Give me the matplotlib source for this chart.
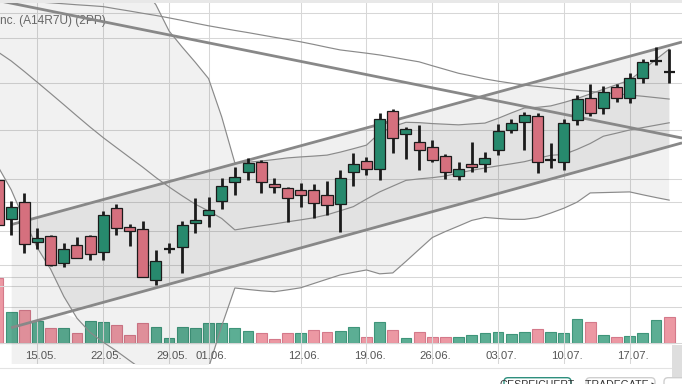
import numpy as np
import pandas as pd
import matplotlib
matplotlib.use("Agg")
import matplotlib.pyplot as plt
from matplotlib.patches import Rectangle, FancyBboxPatch
from matplotlib.lines import Line2D
from matplotlib.transforms import IdentityTransform
from matplotlib.ticker import NullLocator

# ---------------- data ----------------
DATES = pd.bdate_range("2023-05-10", "2023-07-20")
X_LABELS = ["15.05.", "22.05.", "29.05.", "01.06.", "12.06.",
            "19.06.", "26.06.", "03.07.", "10.07.", "17.07."]

OPEN = [59.96, 57.67, 58.69, 56.41, 56.73, 55.25, 56.23, 56.73, 55.85, 58.31,
        57.22, 57.11, 54.32, 55.99, 56.10, 57.45, 57.90, 58.75, 59.86, 60.46,
        61.04, 59.71, 59.47, 59.37, 59.37, 59.06, 58.54, 60.42, 61.10, 60.60,
        64.23, 62.74, 62.28, 61.98, 61.41, 60.22, 60.91, 60.91, 61.78, 63.01,
        63.49, 63.91, 61.16, 61.03, 63.64, 65.02, 64.38, 65.73, 65.02, 66.36,
        67.49, 66.71]
HIGH = [60.20, 58.75, 59.22, 57.16, 56.79, 56.35, 56.69, 56.79, 58.17, 58.56,
        57.41, 57.58, 55.95, 56.35, 57.59, 58.89, 58.95, 60.07, 60.73, 61.27,
        61.16, 60.07, 59.57, 59.77, 59.71, 59.92, 60.56, 61.57, 61.36, 64.06,
        64.34, 63.18, 63.32, 62.39, 61.53, 61.06, 62.28, 61.67, 63.39, 63.68,
        64.16, 64.06, 62.22, 63.68, 65.23, 65.93, 65.82, 65.93, 66.69, 67.58,
        68.39, 68.26]
LOW = [57.07, 56.79, 55.77, 55.99, 55.07, 55.03, 55.48, 55.39, 55.39, 56.79,
       56.17, 54.47, 54.04, 55.77, 54.67, 56.88, 57.22, 58.25, 59.08, 59.96,
       59.18, 59.18, 57.54, 58.40, 57.77, 57.92, 56.97, 59.61, 60.26, 59.96,
       61.57, 61.21, 60.56, 61.03, 60.00, 59.96, 60.46, 60.42, 61.47, 62.84,
       61.78, 60.40, 60.66, 60.56, 63.32, 63.87, 64.00, 64.76, 64.74, 65.99,
       67.20, 65.99]
CLOSE = [57.35, 58.40, 56.26, 56.60, 55.12, 56.00, 55.52, 55.71, 57.90, 57.16,
         57.01, 54.49, 55.32, 55.99, 57.33, 57.63, 58.19, 59.61, 60.13, 60.97,
         59.86, 59.57, 58.89, 59.06, 58.60, 58.48, 60.07, 60.92, 60.60, 63.68,
         62.49, 63.05, 61.78, 61.16, 60.46, 60.60, 60.73, 61.27, 62.95, 63.43,
         63.95, 61.03, 61.16, 63.43, 64.95, 64.06, 65.41, 65.02, 66.32, 67.38,
         67.49, 66.71]
PREV_CLOSE = 58.00  # close of the day before the first visible candle

VOLUME = [65.8, 31.0, 33.6, 22.0, 15.8, 15.0, 10.0, 22.3, 21.0, 18.0,
          8.0, 20.0, 16.6, 5.6, 16.6, 15.0, 20.0, 20.6, 15.6, 12.3,
          10.0, 4.0, 10.0, 10.0, 13.3, 11.0, 12.3, 16.6, 6.0, 21.6,
          13.3, 5.0, 11.0, 6.6, 6.0, 6.0, 8.3, 10.6, 11.0, 9.0,
          11.6, 14.0, 11.0, 10.0, 24.0, 21.0, 8.3, 6.6, 7.6, 10.6,
          23.3, 26.6]

BB_UPPER = [77.58, 77.20, 76.81, 76.44, 76.06, 75.68, 75.31, 74.86, 74.42, 73.83,
            73.25, 72.53, 71.33, 69.50, 68.40, 67.37, 66.30, 63.83, 60.98, 61.03,
            61.10, 61.19, 61.29, 61.35, 61.40, 61.46, 61.64, 61.85, 62.07, 62.82,
            63.22, 63.49, 63.47, 63.41, 63.37, 63.33, 63.39, 63.44, 63.74, 64.08,
            64.40, 64.44, 64.53, 64.75, 65.00, 65.30, 65.60, 65.90, 66.20, 66.87,
            67.57, 68.26]
BB_MID = [68.07, 67.47, 66.77, 66.05, 65.33, 64.61, 63.89, 63.19, 62.53, 61.92,
          61.32, 60.73, 60.11, 59.55, 59.03, 58.54, 58.15, 57.72, 57.07, 57.19,
          57.30, 57.41, 57.53, 57.64, 57.76, 57.93, 58.16, 58.40, 58.84, 59.26,
          59.60, 59.94, 60.03, 60.10, 60.20, 60.38, 60.54, 60.68, 60.81, 60.93,
          61.06, 61.26, 61.45, 61.50, 61.81, 62.17, 62.62, 62.81, 63.01, 63.16,
          63.31, 63.46]
BB_LOWER = [60.77, 59.39, 57.63, 56.05, 54.89, 53.43, 52.29, 51.56, 51.06, 50.62,
            50.14, 49.68, 49.38, 49.28, 49.38, 49.68, 49.78, 51.89, 53.88, 53.80,
            53.73, 53.68, 53.78, 53.89, 54.12, 54.35, 54.58, 54.72, 54.85, 54.64,
            54.69, 55.32, 55.98, 56.64, 56.98, 57.29, 57.61, 57.78, 57.72, 57.67,
            57.67, 57.78, 58.03, 58.31, 58.66, 59.20, 59.22, 59.24, 59.26, 59.09,
            58.93, 58.78]
MA_SLOW = [71.75, 71.68, 71.61, 71.53, 71.47, 71.40, 71.33, 71.27, 71.20, 71.04,
           70.89, 70.73, 70.58, 70.41, 70.23, 70.04, 69.86, 69.70, 69.54, 69.39,
           69.23, 69.07, 68.92, 68.76, 68.58, 68.39, 68.21, 68.10, 67.99, 67.87,
           67.72, 67.56, 67.41, 67.15, 66.90, 66.65, 66.47, 66.28, 66.13, 66.00,
           65.87, 65.79, 65.70, 65.62, 65.53, 65.46, 65.38, 65.31, 65.23, 65.15,
           65.06, 64.97]

# trend lines: (candle index, price) anchors
RESISTANCE = [(0, 71.63), (51, 62.67)]
CHANNEL_UPPER = [(1, 57.37), (51, 68.51)]
CHANNEL_LOWER = [(1, 51.80), (51, 61.99)]

PRICE_GRID = [51, 54, 57, 60, 63, 66, 69]
VOLUME_GRID = [36.0, 66.6, 78.3, 141.6, 330.6]

TITLE = "nc. (A14R7U) (2PP)"

# ---------------- style ----------------
W, H = 682, 384
GREEN, RED = "#27896d", "#d5707e"
VGREEN, VGREEN_E = "#5cae94", "#3f957a"
VRED, VRED_E = "#ec98a3", "#d4798a"
DARK = "#1b1b1b"
THIN = "#8a8a8a"
THICK = "#888888"
GRID = "#d7d7d7"
FONT = ["Liberation Sans", "DejaVu Sans"]

idx = np.arange(len(DATES))
O, Hh, L, C = map(np.asarray, (OPEN, HIGH, LOW, CLOSE))


def trend(anchors, xs):
    (x0, p0), (x1, p1) = anchors
    s = (np.log(p1) - np.log(p0)) / (x1 - x0)
    return np.exp(np.log(p0) + s * (np.asarray(xs, float) - x0))


fig = plt.figure(figsize=(W / 100, H / 100), dpi=100)
fig.patch.set_facecolor("white")
ax = fig.add_axes([0, 1 - 363.5 / H, 1, 360.5 / H])
ax_vol = ax.twinx()
ax_vol.set_zorder(0)
ax.set_zorder(1)
ax.patch.set_visible(False)
ax_vol.patch.set_visible(True)
ax_vol.patch.set_facecolor("white")

XLIM = (0.152, 51.976)
YLIM = (49.9956, 71.4557)

# ---- volume (behind) ----
prev = np.r_[PREV_CLOSE, C[:-1]]
up = C >= prev
ax_vol.bar(idx, VOLUME, width=0.82,
           color=[VGREEN if u else VRED for u in up],
           edgecolor=[VGREEN_E if u else VRED_E for u in up],
           linewidth=0.8, zorder=2)
ax_vol.set_ylim(-20.2, 340.3)
ax_vol.set_yticks(VOLUME_GRID)
ax_vol.set_axisbelow(True)
ax_vol.grid(axis="y", color=GRID, lw=0.75)
ax_vol.grid(axis="x", visible=False)

# ---- price axis ----
ax.set_yscale("log")
ax.set_xlim(*XLIM)
ax.set_ylim(*YLIM)
ax.set_yticks(PRICE_GRID)
ax.yaxis.set_minor_locator(NullLocator())
label_pos = [int(np.where(DATES.strftime("%d.%m.") == lab)[0][0]) for lab in X_LABELS]
ax.set_xticks(label_pos)
ax.set_axisbelow(True)
ax.grid(True, which="major", color=GRID, lw=0.75)

for a in (ax, ax_vol):
    for s in a.spines.values():
        s.set_visible(False)
    a.tick_params(length=0, labelleft=False, labelright=False,
                  labelbottom=False, labeltop=False)

# fills
ax.fill_between(idx, BB_LOWER, BB_UPPER, color="k", alpha=0.055, lw=0, zorder=1)
ch_x = idx[1:]
ax.fill_between(ch_x, trend(CHANNEL_LOWER, ch_x), trend(CHANNEL_UPPER, ch_x),
                color="k", alpha=0.06, lw=0, zorder=1)
ex = idx[1:17]
ax.fill_between(ex, YLIM[0],
                np.minimum(np.asarray(BB_LOWER)[1:17], trend(CHANNEL_LOWER, ex)),
                color="k", alpha=0.055, lw=0, zorder=1)

# thin indicator lines
for series in (BB_UPPER, BB_MID, BB_LOWER, MA_SLOW):
    ax.plot(idx, series, color=THIN, lw=0.85, zorder=3)

# thick trend lines
rx = np.array(XLIM)
ax.plot(rx, trend(RESISTANCE, rx), color=THICK, lw=2.0, zorder=3.5,
        solid_capstyle="butt")
cx = np.array([1, XLIM[1]])
ax.plot(cx, trend(CHANNEL_UPPER, cx), color=THICK, lw=2.0, zorder=3.5,
        solid_capstyle="butt")
ax.plot(cx, trend(CHANNEL_LOWER, cx), color=THICK, lw=2.0, zorder=3.5,
        solid_capstyle="butt")

# candles
ax.vlines(idx, L, Hh, color=DARK, lw=2.0, zorder=5)
doji = np.isclose(O, C)
body = ~doji
bot = np.minimum(O, C)[body]
top = np.maximum(O, C)[body]
ax.bar(idx[body], top - bot, bottom=bot, width=0.84,
       color=[GREEN if c > o else RED for o, c in zip(O[body], C[body])],
       edgecolor=DARK, linewidth=0.9, zorder=6)
ax.hlines(C[doji], idx[doji] - 0.42, idx[doji] + 0.42, color=DARK, lw=1.6, zorder=6)

# date labels inside the plot
for pos, lab in zip(label_pos, X_LABELS):
    ax.text(pos + 0.25, (363.5 - 358.6) / 360.5, lab,
            transform=ax.get_xaxis_transform(), ha="center", va="baseline",
            fontsize=8.2, color="#555555", family=FONT, zorder=7)

# title (partially cut off at the left)
ax.text(0.5 / W, 1 - 24.3 / H, TITLE, transform=fig.transFigure,
        ha="left", va="baseline", fontsize=8.6, color="#6e6e6e",
        family=FONT, zorder=0.8)

# ---------------- page chrome ----------------
ident = IdentityTransform()
fig.add_artist(Rectangle((0, H - 3), W, 3, transform=ident,
                         facecolor="#e8e8e8", edgecolor="none", zorder=10))
fig.add_artist(Line2D([0, W], [H - 368.3, H - 368.3], transform=ident,
                      color="#e3e3e3", lw=0.8, zorder=10))
fig.add_artist(Rectangle((671.7, 0), 12, H - 345, transform=ident,
                         facecolor="#dedede", edgecolor="none", zorder=10))

buttons = [
    (504, 571, "GESPEICHERT", "#2e8f7e"),
    (586, 655, "TRADEGATE \u25b8", "#cfcfcf"),
    (664, 700, "", "#cfcfcf"),
]
for x0, x1, txt, ec in buttons:
    fig.add_artist(FancyBboxPatch((x0, -12), x1 - x0, H - 377.7 + 12,
                                  boxstyle="round,pad=0,rounding_size=4",
                                  transform=ident, facecolor="white",
                                  edgecolor=ec, lw=1.0, zorder=11))
    if txt:
        fig.text((x0 + x1) / 2 / W, 1 - 380.2 / H, txt, ha="center", va="top",
                 fontsize=7.6, color="#333333", family=FONT, zorder=12)

fig.savefig("out.png", dpi=100)
